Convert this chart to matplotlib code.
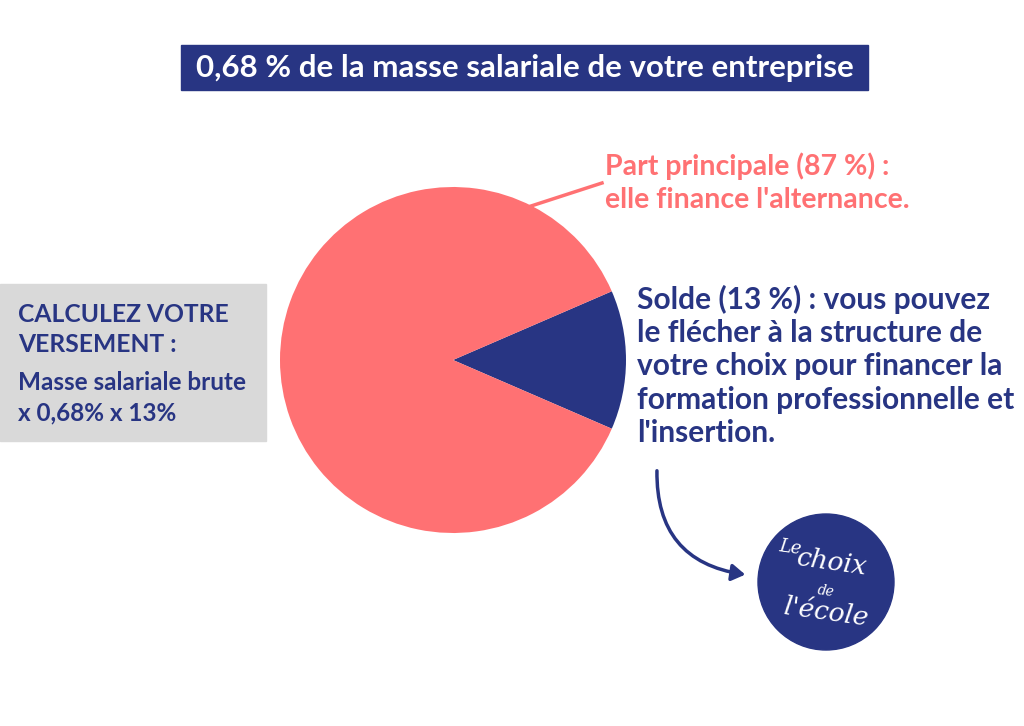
import matplotlib
matplotlib.use("Agg")
import matplotlib.pyplot as plt
from matplotlib.patches import Rectangle, Circle, FancyArrowPatch

labels = ["Part principale", "Solde"]
values = [87, 13]
colors = ["#FF7173", "#283583"]
NAVY = "#283583"; CORAL = "#FF7173"

W, H = 1024, 726
fig = plt.figure(figsize=(10.24, 7.26), dpi=100)
ax = fig.add_axes([0, 0, 1, 1])
ax.set_xlim(0, W); ax.set_ylim(H, 0); ax.axis("off")
ax.set_aspect("equal")
F = "Lato"

sa = -values[1] / 100 * 360 / 2
ax.pie(values[::-1], colors=colors[::-1], startangle=sa, center=(453, 360), radius=173,
       counterclock=True, wedgeprops=dict(linewidth=0), frame=True)
ax.set_xlim(0, W); ax.set_ylim(H, 0); ax.axis("off")

ax.add_patch(Rectangle((181, 45), 687, 45, color=NAVY, zorder=3))
ax.text(525, 68, "0,68 % de la masse salariale de votre entreprise", color="white",
        fontsize=22.5, fontweight="bold", family=F, ha="center", va="center", zorder=4)

ax.plot([528, 602], [207, 183], color=CORAL, lw=2.5)
ax.text(605, 166, "Part principale (87 %) :", color=CORAL, fontsize=20.5, fontweight="bold", family=F, va="center")
ax.text(605, 200, "elle finance l'alternance.", color=CORAL, fontsize=20.5, fontweight="bold", family=F, va="center")

lines = ["Solde (13 %) : vous pouvez", "le flécher à la structure de",
         "votre choix pour financer la", "formation professionnelle et", "l'insertion."]
for i, t in enumerate(lines):
    ax.text(637, 299 + i * 33.5, t, color=NAVY, fontsize=21.5, fontweight="bold", family=F, va="center")

ax.add_patch(Rectangle((0, 284), 266, 157, color="#D9D9D9", zorder=1))
for t, y, fs in [("CALCULEZ VOTRE", 314, 17.7), ("VERSEMENT :", 344, 17.7),
                 ("Masse salariale brute", 383, 17.5), ("x 0,68% x 13%", 413, 17.5)]:
    ax.text(18, y, t, color=NAVY, fontsize=fs, fontweight="bold", family=F, va="center", zorder=2)

ax.add_patch(FancyArrowPatch((657, 468), (748, 575), connectionstyle="arc3,rad=0.45",
                             arrowstyle="-|>,head_length=8,head_width=5", color=NAVY, lw=2.5))

ax.add_patch(Circle((826, 582), 68, color=NAVY, zorder=3))
for t, x, y, fs in [("Le", 790, 548, 13), ("choix", 832, 563, 19), ("de", 826, 591, 10), ("l'école", 826, 613, 19)]:
    ax.text(x, y, t, color="white", fontsize=fs, family="DejaVu Serif", style="italic",
            ha="center", va="center", zorder=4, rotation=-8)

fig.savefig("out.png", dpi=100, facecolor="white")
